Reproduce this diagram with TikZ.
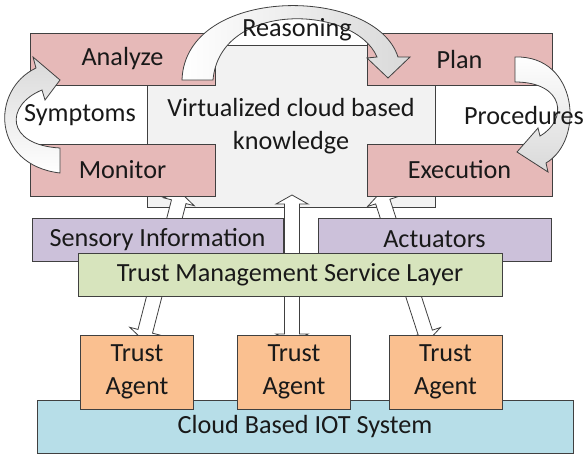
\documentclass[tikz,border=0pt]{standalone}
\usepackage{fontspec}
\setmainfont{Carlito}
\usetikzlibrary{calc}

\definecolor{pinkfill}{RGB}{230,185,184}
\definecolor{grayfill}{RGB}{242,242,242}
\definecolor{purplefill}{RGB}{204,193,218}
\definecolor{greenfill}{RGB}{215,228,189}
\definecolor{orangefill}{RGB}{250,192,144}
\definecolor{bluefill}{RGB}{183,222,232}
\definecolor{edge}{RGB}{64,64,64}

\tikzset{
  layer/.style={draw=edge,line width=1pt,inner sep=0pt,text=black!90,
    font=\fontsize{26.2}{33}\selectfont,align=center},
  mapek/.style={layer,fill=pinkfill,minimum width=185pt,minimum height=52pt},
  agent/.style={layer,fill=orangefill,minimum width=113pt,minimum height=74pt},
  txt/.style={text=black!90,font=\fontsize{26.2}{33}\selectfont,inner sep=0pt},
  blockarrow/.style={draw=edge,line width=0.8pt,fill=white},
  bentarrow/.style={draw=edge,line width=0.8pt},
}

\begin{document}
\begin{tikzpicture}[x=1pt,y=-1pt]
\useasboundingbox (0,0) rectangle (585,455);

% knowledge in the middle
\node[layer,fill=grayfill,minimum width=288pt,minimum height=162pt] (know) at (291,126) {Virtualized cloud based\\knowledge};

% ends of the straight arrows
\coordinate (lt) at (181,193);
\coordinate (lb) at (143,340);
\coordinate (mt) at (292,195);
\coordinate (mb) at (292,343);
\coordinate (rt) at (380,193);
\coordinate (rb) at (428,341);

\foreach \t/\b in {lt/lb,mt/mb,rt/rb}{
  \coordinate (p) at ($(\t)!9pt!(\b)$);
  \coordinate (q) at ($(\b)!9pt!(\t)$);
  \draw[blockarrow] (\t) -- ($(p)!16pt!90:(\b)$) -- ($(p)!7.5pt!90:(\b)$)
    -- ($(q)!7.5pt!90:(\b)$) -- ($(q)!16pt!90:(\b)$) -- (\b)
    -- ($(q)!16pt!-90:(\b)$) -- ($(q)!7.5pt!-90:(\b)$)
    -- ($(p)!7.5pt!-90:(\b)$) -- ($(p)!16pt!-90:(\b)$) -- cycle;
}

% MAPE boxes
\node[mapek] (analyze) at (122.5,59) {Analyze};
\node[mapek] (monitor) at (122.5,170) {Monitor};
\node[mapek] (plan) at (459.5,59) {Plan};
\node[mapek] (execution) at (459.5,170) {Execution};

% bent arrows
\path[bentarrow,left color=white,right color=black!15] (182,80) .. controls (185,-15) and (375,-15) .. (398,57)
  -- (410,57) -- (388,78) -- (367,58) -- (377,57) .. controls (355,5) and (220,0) .. (213,80) -- cycle;
\path[bentarrow,top color=white,bottom color=black!15] (515,57) .. controls (578,55) and (585,140) .. (546,163)
  -- (548,172) -- (517,152) -- (538,128) -- (540,136) .. controls (568,120) and (565,82) .. (515,82) -- cycle;
\path[bentarrow,top color=black!15,bottom color=white] (60,173) .. controls (-8,165) and (-10,90) .. (36,68)
  -- (33,57) -- (60,80) -- (45,100) -- (42,90) .. controls (5,105) and (5,145) .. (60,148) -- cycle;

\node[txt] (reasoning) at (297,30) {Reasoning};
\node[txt] (symptoms) at (80,115) {Symptoms};
\node[txt] (procedures) at (524,115) {Procedures};

% lower layers
\node[layer,fill=purplefill,minimum width=251pt,minimum height=43pt] (sensory) at (157.5,239.5) {Sensory Information};
\node[layer,fill=purplefill,minimum width=233pt,minimum height=43pt] (actuators) at (434.5,239.5) {Actuators};
\node[layer,fill=greenfill,minimum width=424pt,minimum height=43pt] (tmsl) at (290,274.5) {Trust Management Service Layer};
\node[layer,fill=bluefill,minimum width=536pt,minimum height=53pt] (iot) at (305,426.5) {Cloud Based IOT System};

\node[agent] (agent1) at (137,372) {Trust\\Agent};
\node[agent] (agent2) at (294,372) {Trust\\Agent};
\node[agent] (agent3) at (445.5,372) {Trust\\Agent};
\end{tikzpicture}
\end{document}
